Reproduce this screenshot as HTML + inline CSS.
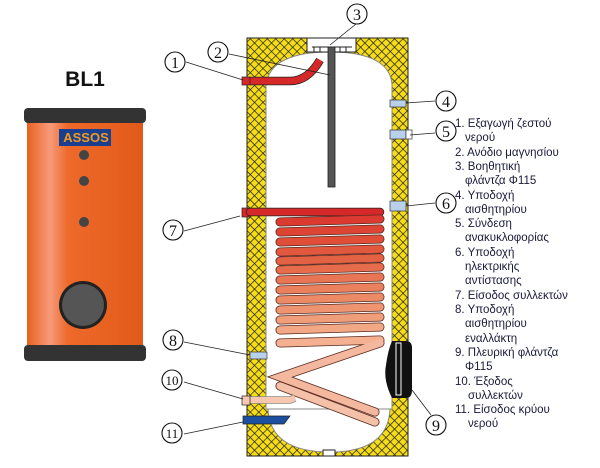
<!DOCTYPE html>
<html><head><meta charset="utf-8"><style>
body{margin:0;background:#fff;width:600px;height:468px;overflow:hidden;font-family:"Liberation Sans","DejaVu Sans",sans-serif}
</style></head><body>
<svg width="600" height="468" xmlns="http://www.w3.org/2000/svg" style="position:absolute;left:0;top:0">
<defs>
<pattern id="h" width="6" height="6" patternUnits="userSpaceOnUse" patternTransform="rotate(45)">
<rect width="6" height="6" fill="#f7dc18"/>
<path d="M0 0V6M0 0H6" stroke="#222" stroke-width="1.4"/>
</pattern>
<linearGradient id="or" x1="0" x2="1">
<stop offset="0" stop-color="#e8621e"/><stop offset="0.2" stop-color="#f79a7a"/><stop offset="0.35" stop-color="#ee6a2a"/><stop offset="1" stop-color="#e25a1a"/>
</linearGradient>
</defs>
<text x="85" y="86" text-anchor="middle" font-size="21" font-weight="bold" fill="#111">BL1</text>
<rect x="27" y="115" width="116" height="240" fill="url(#or)"/>
<rect x="24" y="108" width="122" height="15" rx="4" fill="#333"/>
<rect x="24" y="345" width="122" height="16" rx="4" fill="#333"/>
<rect x="59" y="129" width="52" height="17" fill="#1b3f8f"/>
<text x="86" y="142" text-anchor="middle" font-size="13" font-weight="bold" fill="#f39a1e">ASSOS</text>
<circle cx="84" cy="155" r="5" fill="#444"/><circle cx="84" cy="181" r="5" fill="#444"/><circle cx="84" cy="222" r="5" fill="#444"/>
<circle cx="83" cy="305" r="24" fill="#222"/><circle cx="83" cy="305" r="21" fill="#555"/>
<rect x="247" y="38" width="161" height="418" fill="url(#h)" stroke="#222" stroke-width="1"/>
<path d="M266 85 Q270 52 330 52 Q390 52 392 85 V409 H266 Z" fill="#fff" stroke="#888" stroke-width="1"/>
<path d="M268 409 Q270 452 330 452 Q388 452 390 409 Z" fill="#fff" stroke="#888"/>
<rect x="307" y="38" width="49" height="14" fill="#fff" stroke="#222"/>
<rect x="323" y="450" width="12" height="6" fill="#fff" stroke="#222"/>
<path d="M312 47 H352 M314 47v5 M320 47v5 M340 47v5 M346 47v5" stroke="#222"/>
<rect x="328" y="47" width="7" height="140" fill="#555" stroke="#222" stroke-width="0.8"/>
<path d="M250 81 H290 Q308 81 320 60" stroke="#222" stroke-width="8.5" fill="none"/>
<path d="M250 81 H290 Q308 81 320 60" stroke="#d62828" stroke-width="7" fill="none"/>
<rect x="242" y="77" width="8" height="8" fill="#d62828" stroke="#222" stroke-width="0.7"/>
<rect x="242" y="208" width="8" height="9" fill="#d62828" stroke="#222" stroke-width="0.7"/>
<path d="M250 212 H380" stroke="#222" stroke-width="8.5" stroke-linecap="round"/>
<path d="M250 212 H380" stroke="#d62828" stroke-width="7" stroke-linecap="round"/>
<g stroke-linecap="round" stroke-width="9" fill="none" stroke="#5a2a20">
<path d="M280 222 L380 219"/><path d="M280 232 L380 229"/><path d="M280 242 L380 239"/><path d="M280 252 L380 249"/>
<path d="M280 261 L380 258"/><path d="M280 270 L380 267"/><path d="M280 280 L380 277"/><path d="M280 290 L380 287"/>
<path d="M280 300 L380 297"/><path d="M280 310 L380 307"/><path d="M280 320 L380 317"/><path d="M280 330 L380 327"/>
<path d="M280 343 L380 340"/><path d="M380 343 L280 377 L375 412"/><path d="M280 386 L375 422"/>
</g>
<g stroke-linecap="round" stroke-width="7.4" fill="none">
<path d="M280 222 L380 219" stroke="#dc3a30"/>
<path d="M280 232 L380 229" stroke="#de4434"/>
<path d="M280 242 L380 239" stroke="#e04e38"/>
<path d="M280 252 L380 249" stroke="#e2583e"/>
<path d="M280 261 L380 258" stroke="#e46244"/>
<path d="M280 270 L380 267" stroke="#e66c4c"/>
<path d="M280 280 L380 277" stroke="#e87654"/>
<path d="M280 290 L380 287" stroke="#ea805c"/>
<path d="M280 300 L380 297" stroke="#ec8a66"/>
<path d="M280 310 L380 307" stroke="#ee9470"/>
<path d="M280 320 L380 317" stroke="#f09e7a"/>
<path d="M280 330 L380 327" stroke="#f2a884"/>
<path d="M280 343 L380 340" stroke="#f4b090"/>
<path d="M380 343 L280 377 L375 412" stroke="#f4b89e"/>
<path d="M280 386 L375 422" stroke="#f4c0a8"/>
</g>
<path d="M250 400 H290 L295 398" stroke="#888" stroke-width="7.5" fill="none"/>
<path d="M250 400 H290 L295 398" stroke="#f6c8b0" stroke-width="6" fill="none"/>
<rect x="242" y="396" width="8" height="9" fill="#f6c8b0" stroke="#222" stroke-width="0.7"/>
<path d="M243 416 H290 L284 424 H243 Z" fill="#1d4fa0" stroke="#222" stroke-width="0.7"/>
<rect x="390" y="100" width="16" height="7" fill="#b8d0ea" stroke="#333" stroke-width="0.7"/>
<rect x="390" y="130" width="16" height="9" fill="#b8d0ea" stroke="#333" stroke-width="0.7"/>
<rect x="406" y="130" width="6" height="9" fill="#fff" stroke="#333" stroke-width="0.7"/>
<rect x="390" y="201" width="16" height="10" fill="#b8d0ea" stroke="#333" stroke-width="0.7"/>
<rect x="250" y="352" width="17" height="7" fill="#b8d0ea" stroke="#333" stroke-width="0.7"/>
<path d="M392 341 H406 Q412 341 412 348 V390 Q412 398 406 398 H392 Q383 380 386 365 Q388 350 392 341Z" fill="#111"/>
<rect x="396" y="343" width="5" height="52" fill="none" stroke="#fff" stroke-width="1"/>
<g stroke="#222" stroke-width="0.8" fill="none">
<path d="M186 62 L243 80"/><path d="M229 54 L330 75"/><path d="M356 24 L330 45"/>
<path d="M435 101 L406 103"/><path d="M435 133 L410 135"/><path d="M435 203 L406 206"/>
<path d="M184 231 L240 216"/><path d="M184 342 L250 355"/><path d="M184 382 L243 399"/>
<path d="M184 434 L243 422"/><path d="M431 415 L412 390"/>
</g>
<g font-family="Liberation Serif,serif" font-size="16" text-anchor="middle" fill="#111">
<g fill="#fff" stroke="#111" stroke-width="1.1">
<circle cx="175" cy="62" r="10"/><circle cx="218" cy="52" r="10"/><circle cx="357" cy="14" r="10"/>
<circle cx="446" cy="101" r="10"/><circle cx="446" cy="131" r="10"/><circle cx="446" cy="203" r="10"/>
<circle cx="173" cy="230" r="10"/><circle cx="173" cy="340" r="10"/><circle cx="172" cy="380" r="10"/>
<circle cx="172" cy="433" r="10"/><circle cx="436" cy="425" r="10"/>
</g>
<text x="175" y="68">1</text><text x="218" y="58">2</text><text x="357" y="20">3</text>
<text x="446" y="107">4</text><text x="446" y="137">5</text><text x="446" y="209">6</text>
<text x="173" y="236">7</text><text x="173" y="346">8</text><text x="172" y="385" font-size="13">10</text>
<text x="172" y="438" font-size="13">11</text><text x="436" y="431">9</text>
</g>
<g font-size="11.5" fill="#1a1a3a">
<text x="455" y="127">1. Εξαγωγή ζεστού</text><text x="465" y="141">νερού</text>
<text x="455" y="156">2. Ανόδιο μαγνησίου</text>
<text x="455" y="170">3. Βοηθητική</text><text x="465" y="184">φλάντζα Φ115</text>
<text x="455" y="199">4. Υποδοχή</text><text x="465" y="213">αισθητηρίου</text>
<text x="455" y="227">5. Σύνδεση</text><text x="465" y="241">ανακυκλοφορίας</text>
<text x="455" y="256">6. Υποδοχή</text><text x="465" y="270">ηλεκτρικής</text><text x="465" y="284">αντίστασης</text>
<text x="455" y="299">7. Είσοδος συλλεκτών</text>
<text x="455" y="313">8. Υποδοχή</text><text x="465" y="327">αισθητηρίου</text><text x="465" y="342">εναλλάκτη</text>
<text x="455" y="356">9. Πλευρική φλάντζα</text><text x="465" y="370">Φ115</text>
<text x="455" y="385">10. Έξοδος</text><text x="468" y="399">συλλεκτών</text>
<text x="455" y="413">11. Είσοδος κρύου</text><text x="468" y="427">νερού</text>
</g>
</svg>
</body></html>
